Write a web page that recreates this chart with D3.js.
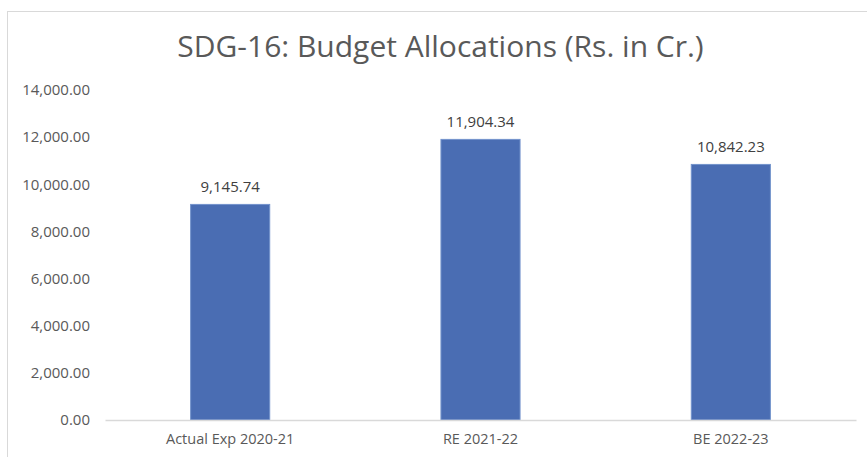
<!DOCTYPE html>
<html lang="en">
<head>
  <meta charset="UTF-8">
  <title>SDG-16 Budget Allocations</title>
  <script src="https://d3js.org/d3.v7.min.js"></script>
  <style>
    body { margin: 0; background: #fff; }
    text { font-family: 'Open Sans', sans-serif; }
  </style>
</head>
<body>
  <div id="chart"></div>
  <script>
    // Data
    const categories = ["Actual Exp 2020-21", "RE 2021-22", "BE 2022-23"];
    const values = [9145.74, 11904.34, 10842.23];
    const yTicks = [0, 2000, 4000, 6000, 8000, 10000, 12000, 14000];

    const width = 867;
    const height = 457;
    const margin = { top: 90, right: 11, bottom: 37, left: 105 };

    const svg = d3.select("#chart")
      .append("svg")
      .attr("width", width)
      .attr("height", height);

    // Chart frame
    svg.append("rect")
      .attr("x", 7.5)
      .attr("y", 11.5)
      .attr("width", width)
      .attr("height", height)
      .attr("fill", "#fff")
      .attr("stroke", "#d9d9d9");

    // Title
    svg.append("text")
      .attr("x", 440.5)
      .attr("y", 57)
      .attr("text-anchor", "middle")
      .attr("fill", "#595959")
      .style("font-size", "30px")
      .text("SDG-16: Budget Allocations (Rs. in Cr.)");

    var x = d3.scaleBand()
      .domain(categories)
      .range([margin.left, width - margin.right])
      .paddingInner(0.684)
      .paddingOuter(0.342);

    var y = d3.scaleLinear()
      .domain([0, 14000])
      .range([height - margin.bottom, margin.top]);

    var fmt = d3.format(",.2f");

    // Y axis labels (no line, no ticks)
    var yAxis = svg.append("g")
      .attr("transform", "translate(" + (margin.left - 15) + ",0)")
      .call(d3.axisLeft(y).tickValues(yTicks).tickFormat(fmt).tickSize(0).tickPadding(0));
    yAxis.select(".domain").remove();
    yAxis.selectAll("text")
      .attr("fill", "#595959")
      .style("font-size", "15px")
      .style("font-family", "'Open Sans', sans-serif");

    // Bars
    svg.append("g")
      .selectAll("rect")
      .data(values)
      .enter()
      .append("rect")
      .attr("x", function (d, i) { return x(categories[i]); })
      .attr("y", function (d) { return y(d); })
      .attr("width", x.bandwidth())
      .attr("height", function (d) { return y(0) - y(d); })
      .attr("fill", "#4a6db3")
      .attr("stroke", "#7393cc")
      .attr("stroke-width", 1);

    // Data labels
    svg.append("g")
      .selectAll("text")
      .data(values)
      .enter()
      .append("text")
      .attr("x", function (d, i) { return x(categories[i]) + x.bandwidth() / 2; })
      .attr("y", function (d) { return y(d) - 12; })
      .attr("text-anchor", "middle")
      .attr("fill", "#404040")
      .style("font-size", "15px")
      .text(function (d) { return fmt(d); });

    // X axis
    var xAxis = svg.append("g")
      .attr("transform", "translate(0," + y(0) + ")")
      .call(d3.axisBottom(x).tickSize(0).tickPadding(14));
    xAxis.select(".domain")
      .attr("stroke", "#d9d9d9")
      .attr("stroke-width", 1.5);
    xAxis.selectAll("text")
      .attr("fill", "#595959")
      .style("font-size", "14.5px")
      .style("font-family", "'Open Sans', sans-serif");
  </script>
</body>
</html>
